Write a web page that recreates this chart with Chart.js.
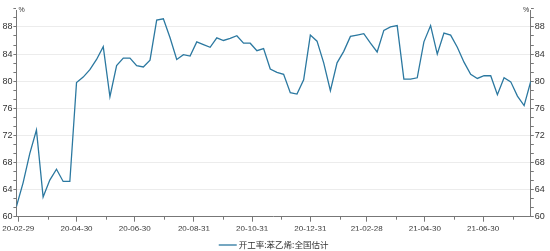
<!DOCTYPE html>
<html>
<head>
<meta charset="utf-8">
<script src="https://cdn.jsdelivr.net/npm/chart.js@4.4.0/dist/chart.umd.min.js"></script>
<style>
  html, body { margin: 0; padding: 0; background: #fff; }
  #wrap { width: 550px; height: 251px; }
</style>
</head>
<body>
<div id="wrap"><canvas id="c"></canvas></div>
<script>
// weekly readings
const weeks = [
  '2020-02-27', '2020-03-05', '2020-03-12', '2020-03-19', '2020-03-26',
  '2020-04-02', '2020-04-09', '2020-04-16', '2020-04-23', '2020-04-30',
  '2020-05-07', '2020-05-14', '2020-05-21', '2020-05-28',
  '2020-06-04', '2020-06-11', '2020-06-18', '2020-06-25',
  '2020-07-02', '2020-07-09', '2020-07-16', '2020-07-23', '2020-07-30',
  '2020-08-06', '2020-08-13', '2020-08-20', '2020-08-27',
  '2020-09-03', '2020-09-10', '2020-09-17', '2020-09-24',
  '2020-10-01', '2020-10-08', '2020-10-15', '2020-10-22', '2020-10-29',
  '2020-11-05', '2020-11-12', '2020-11-19', '2020-11-26',
  '2020-12-03', '2020-12-10', '2020-12-17', '2020-12-24', '2020-12-31',
  '2021-01-07', '2021-01-14', '2021-01-21', '2021-01-28',
  '2021-02-04', '2021-02-11', '2021-02-18', '2021-02-25',
  '2021-03-04', '2021-03-11', '2021-03-18', '2021-03-25',
  '2021-04-01', '2021-04-08', '2021-04-15', '2021-04-22', '2021-04-29',
  '2021-05-06', '2021-05-13', '2021-05-20', '2021-05-27',
  '2021-06-03', '2021-06-10', '2021-06-17', '2021-06-24',
  '2021-07-01', '2021-07-08', '2021-07-15', '2021-07-22', '2021-07-29',
  '2021-08-05', '2021-08-12', '2021-08-19'
];
const rates = [
  61.5, 65.0, 69.3, 72.8, 62.9,
  65.4, 67.0, 65.2, 65.2, 79.8,
  80.6, 81.7, 83.2, 85.1,
  77.7, 82.3, 83.4, 83.4,
  82.3, 82.1, 83.1, 89.0, 89.2,
  86.4, 83.2, 83.9, 83.7,
  85.8, 85.4, 85.0, 86.4,
  86.0, 86.3, 86.7, 85.6, 85.6,
  84.5, 84.8, 81.8, 81.3,
  81.0, 78.3, 78.1, 80.2, 86.8,
  85.9, 82.7, 78.6, 82.7,
  84.4, 86.6, 86.8, 87.0,
  85.6, 84.3, 87.5, 88.0,
  88.2, 80.3, 80.3, 80.5, 85.8,
  88.2, 84.0, 87.1, 86.8,
  85.0, 82.8, 81.0, 80.4,
  80.8, 80.8, 78.0, 80.5, 79.9,
  77.8, 76.4, 80.0
];
const majorDates = ['2020-02-29', '2020-04-30', '2020-06-30', '2020-08-31', '2020-10-31',
                    '2020-12-31', '2021-02-28', '2021-04-30', '2021-06-30'];
const minorDates = ['2020-03-31', '2020-05-31', '2020-07-31', '2020-09-30', '2020-11-30',
                    '2021-01-31', '2021-03-31', '2021-05-31', '2021-07-31'];
const yLabels = [60, 64, 68, 72, 76, 80, 84, 88];
const seriesName = '开工率:苯乙烯:全国估计';

const lineColor = '#2b78a0';
const axisColor = '#777';
const textColor = '#333';
const numFont = 'Liberation Sans, Arial, sans-serif';

const dayOf = s => Date.UTC(+s.slice(0, 4), +s.slice(5, 7) - 1, +s.slice(8, 10)) / 86400000;
const points = weeks.map((d, i) => ({ x: dayOf(d), y: rates[i] }));

// y ticks: majors every 4, two minor marks between
const yTicks = [];
yLabels.forEach(v => { yTicks.push(v, v + 4 / 3, v + 8 / 3); });
const isMajor = v => yLabels.some(m => Math.abs(m - v) < 0.01);

const yAxis = (pos, width) => ({
  position: pos,
  min: 60,
  max: 90.5,
  afterBuildTicks: s => { s.ticks = yTicks.map(v => ({ value: v })); },
  afterFit: s => { s.width = width; },
  ticks: {
    autoSkip: false,
    padding: 1,
    color: textColor,
    font: { size: 9, family: numFont },
    callback: v => isMajor(v) ? String(Math.round(v)) : ''
  },
  grid: {
    drawOnChartArea: pos === 'left',
    color: c => (c.tick && isMajor(c.tick.value)) ? '#ececec' : 'rgba(0,0,0,0)',
    tickColor: axisColor,
    tickLength: 3
  },
  border: { color: axisColor }
});

const extras = {
  id: 'extras',
  afterDraw(chart) {
    const { ctx, chartArea } = chart;
    const xs = chart.scales.x;
    ctx.save();
    // minor month ticks
    ctx.strokeStyle = axisColor;
    ctx.lineWidth = 1;
    minorDates.forEach(d => {
      const px = Math.round(xs.getPixelForValue(dayOf(d))) + 0.5;
      ctx.beginPath();
      ctx.moveTo(px, chartArea.bottom);
      ctx.lineTo(px, chartArea.bottom + 3);
      ctx.stroke();
    });
    // unit marks
    ctx.fillStyle = textColor;
    ctx.font = '7px ' + numFont;
    ctx.textBaseline = 'middle';
    ctx.textAlign = 'left';
    ctx.fillText('%', chartArea.left + 2, chartArea.top);
    ctx.textAlign = 'right';
    ctx.fillText('%', chartArea.right - 1.5, chartArea.top);
    // legend
    ctx.font = '8.5px "Noto Sans CJK SC", sans-serif';
    const tw = ctx.measureText(seriesName).width;
    const total = 18 + 2 + tw;
    const x0 = (chartArea.left + chartArea.right) / 2 - total / 2;
    const ly = 245;
    ctx.strokeStyle = lineColor;
    ctx.lineWidth = 1.3;
    ctx.beginPath();
    ctx.moveTo(x0, ly);
    ctx.lineTo(x0 + 18, ly);
    ctx.stroke();
    ctx.textAlign = 'left';
    ctx.fillText(seriesName, x0 + 20, ly);
    ctx.restore();
  }
};

new Chart(document.getElementById('c'), {
  type: 'line',
  data: {
    datasets: [{
      label: seriesName,
      data: points,
      borderColor: lineColor,
      borderWidth: 1.3,
      pointRadius: 0,
      tension: 0,
      fill: false
    }]
  },
  options: {
    responsive: true,
    maintainAspectRatio: false,
    animation: false,
    layout: { padding: { top: 10, bottom: 20.3, left: 0, right: 0 } },
    plugins: {
      legend: { display: false },
      tooltip: { enabled: false }
    },
    scales: {
      x: {
        type: 'linear',
        min: dayOf(weeks[0]),
        max: dayOf(weeks[weeks.length - 1]),
        afterBuildTicks: s => { s.ticks = majorDates.map(d => ({ value: dayOf(d) })); },
        afterFit: s => { s.height = 14; },
        ticks: {
          autoSkip: false,
          maxRotation: 0,
          padding: 2,
          color: textColor,
          font: { size: 8, family: numFont },
          callback: v => {
            const d = majorDates.find(m => dayOf(m) === v);
            return d ? d.slice(2) : '';
          }
        },
        grid: { drawOnChartArea: false, tickColor: axisColor, tickLength: 5 },
        border: { color: axisColor }
      },
      y: yAxis('left', 16.4),
      y2: yAxis('right', 19.2)
    }
  },
  plugins: [extras]
});
</script>
</body>
</html>
